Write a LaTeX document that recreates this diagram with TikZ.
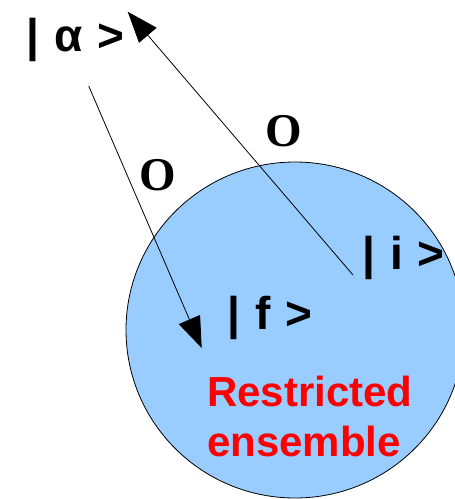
\documentclass[tikz,border=0pt]{standalone}
\usepackage{fontspec}
\setmainfont{Liberation Sans}
\newfontfamily\serifO{Liberation Serif}
\usetikzlibrary{arrows.meta}
\definecolor{ensblue}{HTML}{99CCFF}
\definecolor{ensred}{HTML}{FF0000}
\newcommand\ketfont{\fontsize{46}{50}\selectfont\bfseries\spaceskip 15pt\relax}
\begin{document}
\begin{tikzpicture}[x=1pt,y=-1pt,
  ket/.style={inner sep=0pt,anchor=base west,font=\ketfont},
  oplabel/.style={inner sep=0pt,font=\fontsize{47}{50}\selectfont\serifO\bfseries},
  transition/.style={line width=0.8pt,-{Triangle[length=31pt,width=23pt]}}]
\useasboundingbox (0,0) rectangle (455,499);
\begin{scope}
  \clip (0,0) rectangle (455,499);
  \draw[fill=ensblue,line width=0.8pt] (295,330) ellipse [x radius=169,y radius=168];
\end{scope}
\node[ket] (alpha) at (26,51) {| α >};
\node[ket] (ki) at (362,269) {| i >};
\node[ket] (kf) at (227,329) {| f >};
\node[inner sep=0pt,anchor=north west,align=left,text=ensred,
  font=\fontsize{42}{50}\selectfont\bfseries] (ens) at (207,376) {Restricted\\ensemble};
\node[oplabel] (o1) at (283.5,131) {O};
\node[oplabel] (o2) at (157.5,175) {O};
\coordinate (a1s) at (88.7,86);
\coordinate (a1e) at (201.7,348);
\coordinate (a2s) at (353,275);
\coordinate (a2e) at (127.7,11.7);
\draw[transition] (a1s) -- (a1e);
\draw[transition] (a2s) -- (a2e);
\end{tikzpicture}
\end{document}
